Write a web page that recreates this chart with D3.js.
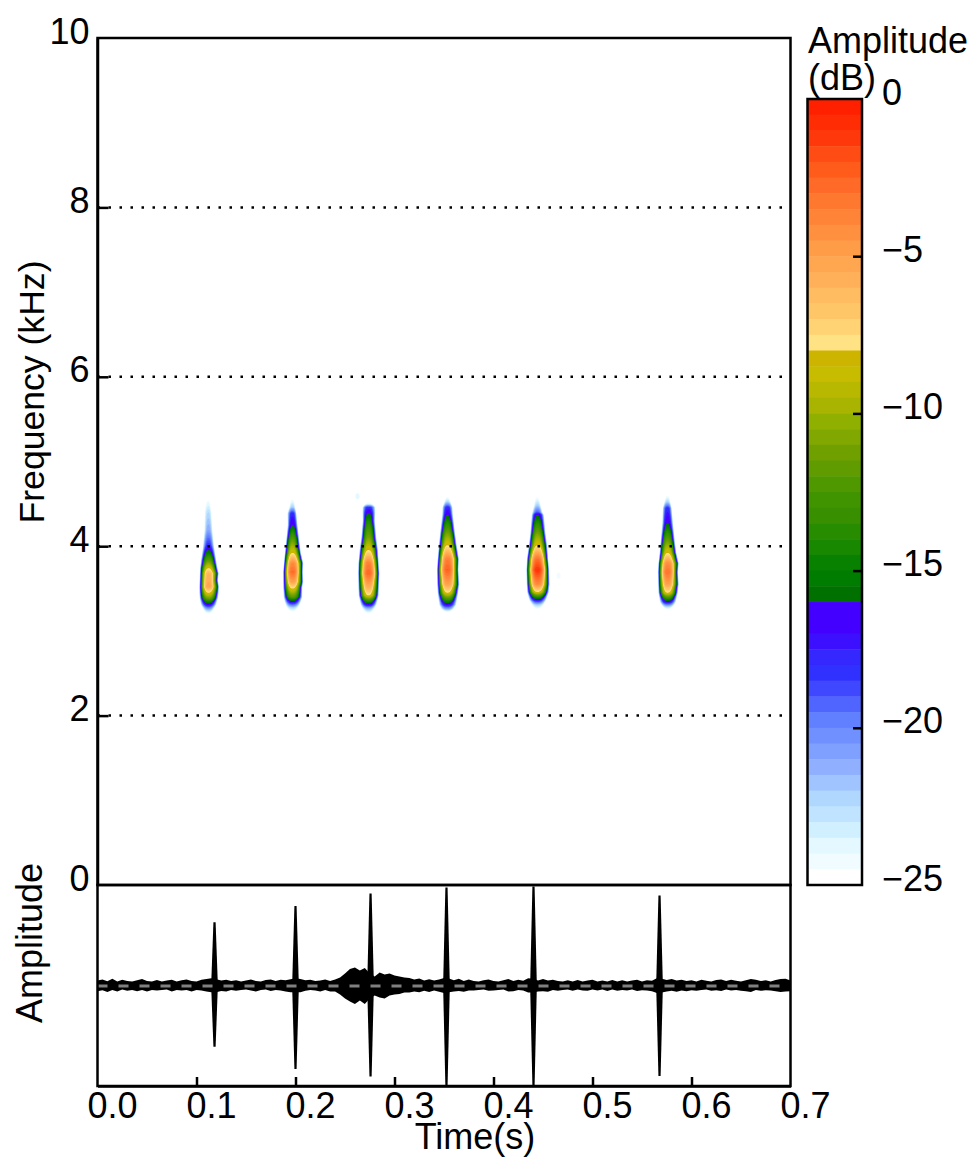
<!DOCTYPE html>
<html><head><meta charset="utf-8">
<script src="https://cdn.jsdelivr.net/npm/d3@7"></script>
<style>
html,body{margin:0;padding:0;background:#fff}
svg{display:block;font-family:"Liberation Sans",Arial,sans-serif}
.axis text{font-size:36px;fill:#000;font-family:"Liberation Sans",Arial,sans-serif}
.axis line,.axis path{stroke:#000;stroke-width:2.5px}
</style></head><body>
<svg id="c" width="971" height="1157"></svg>
<script>
// ---- data ----
const freqTicks=[0,2,4,6,8,10];
const timeTicks=[0,0.1,0.2,0.3,0.4,0.5,0.6,0.7];
const dbTicks=[0,-5,-10,-15,-20,-25];
const gridFreqs=[2,4,6,8];
// 50 colour levels of the colour bar, top (0 dB) to bottom (-25 dB)
const levelColors=["#ff2000","#ff2c04","#ff380c","#ff4c14","#ff5c1c","#ff6a28","#ff7830","#ff8438","#ff9040","#ff9c48","#ffa650","#ffb058","#ffbc60","#ffc668","#ffd274","#ffe284",
"#ccb400","#c8bc00","#b8b800","#a8b400","#90b000","#80a800","#70a000","#609c00","#509800","#409400","#389000","#288c00","#188800","#088000","#007c00","#007000",
"#4400ff","#4400ff","#3c10ff","#3428ff","#3030ff","#4048ff","#5064ff","#6080ff","#7090ff","#80a0ff","#90b0ff","#a0c4ff","#b0d8ff","#c0e4ff","#d0f0ff","#e4f8ff","#f0fcff","#ffffff"];
// call centre times (s)
const callTimes=[0.1121,0.197,0.2737,0.3535,0.4444,0.5758];
// per call rows: [kHz, centre dB, left half width (s), right half width (s)]
const call1=[[3.20,-25,.002,.002],[3.26,-21,.0048,.0048],[3.31,-17,.0066,.0068],[3.39,-11,.0076,.0082],[3.45,-8,.0078,.0088],[3.52,-5.2,.0078,.0090],[3.60,-5.6,.0076,.0082],[3.68,-6,.0074,.0088],[3.74,-8,.0072,.0078],[3.84,-12,.0064,.0066],[3.955,-16,.0052,.0054],[4.01,-18,.0048,.0048],[4.19,-21,.0036,.0036],[4.40,-22.5,.0034,.0026],[4.51,-24,.0026,.0016],[4.57,-25,.001,.001]];
const call2=[[3.22,-25,.002,.002],[3.28,-22,.0052,.0052],[3.34,-17,.0068,.0072],[3.40,-12,.0076,.0084],[3.51,-7.6,.0080,.0084],[3.58,-5,.0080,.0092],[3.695,-2.8,.0080,.0088],[3.80,-4,.0074,.0092],[3.92,-8,.0066,.0072],[4.05,-11,.0056,.0060],[4.25,-16,.0042,.0044],[4.39,-18,.0044,.0034],[4.46,-22,.0030,.0024],[4.55,-24.5,.0018,.0014],[4.60,-25,.001,.001]];
const call3=[[3.20,-25,.002,.002],[3.27,-21,.0056,.0056],[3.31,-17,.0068,.0070],[3.42,-8,.0084,.0088],[3.50,-6,.0086,.0090],[3.68,-2.6,.0088,.0094],[3.80,-3.6,.0086,.0088],[3.955,-8,.0076,.0082],[4.10,-11,.0062,.0068],[4.30,-14,.0050,.0056],[4.39,-16,.0052,.0060],[4.46,-18,.0052,.0060],[4.50,-24,.0030,.0040],[4.54,-25,.001,.001]];
const call4=[[3.22,-25,.002,.002],[3.26,-21,.0056,.0056],[3.31,-17,.0072,.0076],[3.45,-8,.0084,.0092],[3.55,-5,.0088,.0102],[3.72,-2.4,.0090,.0094],[3.85,-3.6,.0084,.0098],[4.01,-8,.0074,.0080],[4.15,-11,.0064,.0066],[4.37,-16,.0046,.0048],[4.46,-18,.0044,.0044],[4.52,-22,.0030,.0030],[4.58,-24.6,.0016,.0016],[4.61,-25,.001,.001]];
const call5=[[3.25,-25,.002,.002],[3.31,-22,.0050,.0056],[3.365,-17,.0072,.0076],[3.46,-8,.0088,.0098],[3.55,-4,.0092,.0104],[3.72,-0.9,.0094,.0100],[3.85,-3,.0090,.0092],[4.01,-8,.0074,.0084],[4.15,-11,.0062,.0070],[4.37,-16,.0050,.0056],[4.40,-19,.0046,.0044],[4.48,-22,.0032,.0030],[4.58,-24.6,.0018,.0014],[4.62,-25,.001,.001]];
const call6=[[3.25,-25,.002,.002],[3.30,-21,.0050,.0056],[3.34,-17,.0066,.0072],[3.45,-8,.0078,.0088],[3.55,-5,.0080,.0096],[3.695,-3,.0082,.0090],[3.80,-4.2,.0078,.0096],[3.92,-8,.0068,.0076],[4.05,-11,.0060,.0064],[4.27,-16,.0046,.0048],[4.45,-18,.0042,.0036],[4.52,-22,.0030,.0026],[4.60,-24.7,.0016,.0014],[4.64,-25,.001,.001]];
const calls=[call1,call2,call3,call4,call5,call6];
// isolated faint specks: [s, kHz, dB]
const specks=[[0.2626,4.59,-23.5],[0.4657,3.65,-24]];
// waveform spikes: [s, peak up, peak down]
const spikes=[[0.1182,0.63,-0.61],[0.2,0.79,-0.83],[0.2758,0.915,-0.905],[0.3525,0.975,-1],[0.4404,0.985,-1],[0.5677,0.895,-0.9]];
const spikeBaseHalf=0.0034, spikeTipHalf=0.0011;
// noise envelope, one value every 5 ms from 0 to 0.7 s
const envStep=0.005;
const envUp=[
.05,.06,.042,.066,.04,.058,.046,.04,.052,.064,.044,.04,.054,.04,.05,.056,.04,.052,.06,.044,
.04,.058,.064,.072,.062,.05,.058,.044,.052,.04,.05,.06,.044,.04,.054,.06,.044,.058,.052,.062,
.072,.064,.052,.058,.046,.05,.06,.046,.06,.08,.12,.165,.18,.15,.175,.12,.09,.13,.11,.12,
.10,.09,.08,.075,.06,.07,.05,.062,.05,.06,.075,.07,.052,.066,.046,.06,.044,.04,.052,.06,
.044,.04,.052,.064,.044,.058,.048,.072,.066,.05,.064,.05,.058,.044,.04,.052,.04,.054,.04,.05,
.056,.04,.05,.04,.054,.04,.052,.04,.05,.056,.04,.052,.048,.072,.068,.054,.064,.05,.056,.046,
.052,.04,.058,.048,.04,.054,.06,.044,.058,.048,.04,.052,.064,.056,.044,.052,.04,.054,.064,.068,.05];
const envDown=[
.056,.048,.064,.044,.06,.04,.052,.046,.058,.044,.06,.046,.05,.044,.04,.06,.046,.05,.044,.06,
.046,.05,.06,.068,.066,.054,.06,.044,.052,.046,.04,.05,.06,.044,.04,.054,.046,.05,.06,.066,
.068,.066,.052,.046,.05,.06,.044,.06,.06,.09,.13,.16,.185,.15,.185,.13,.10,.12,.13,.10,
.09,.085,.07,.07,.06,.066,.052,.064,.05,.062,.075,.066,.06,.054,.062,.05,.05,.044,.04,.052,
.05,.046,.04,.06,.056,.046,.05,.07,.07,.06,.056,.062,.044,.052,.046,.04,.052,.04,.05,.052,
.04,.05,.04,.054,.04,.052,.046,.05,.04,.054,.048,.05,.056,.074,.07,.06,.052,.062,.05,.058,
.048,.052,.046,.04,.052,.048,.054,.04,.05,.046,.052,.058,.064,.046,.052,.048,.05,.058,.064,.06,.056];
const zeroLine=[0,0.7];

// ---- scales ----
const svg=d3.select("#c");
const L=97.5,R=790.5,T=38,M=885,B=1086,CL=807.5,CR=862,CT=99;
const x=d3.scaleLinear().domain([0,0.7]).range([L,R]);
const y=d3.scaleLinear().domain([0,10]).range([M,T]);
const a=d3.scaleLinear().domain([-1,1]).range([B,M]);
const c=d3.scaleLinear().domain([-25,0]).range([M,CT]);
const bandIdx=d3.range(50);
const band=d3.scaleBand().domain(bandIdx).range([CT,M]);
const colorOf=d=>levelColors[Math.max(0,Math.min(49,Math.ceil(-d/0.5)))];

const defs=svg.append("defs");
defs.append("filter").attr("id","soft").attr("x","-20%").attr("y","-20%").attr("width","140%").attr("height","140%")
 .append("feGaussianBlur").attr("stdDeviation",0.7);
defs.append("filter").attr("id","soft2").attr("x","-2%").attr("y","-2%").attr("width","104%").attr("height","104%")
 .append("feGaussianBlur").attr("stdDeviation",0.3);
defs.append("clipPath").attr("id","wclip").append("rect").attr("x",L).attr("y",M).attr("width",R-L).attr("height",B-M);

// ---- spectrogram: filled contours of each call ----
const gS=svg.append("g").attr("filter","url(#soft)");
const thresholds=d3.range(-25,-0.25,0.5).filter(t=>t>-25);
const dT=0.0005,dF=0.006,spanT=0.018,widen=1.2,edgePower=2.6;
calls.forEach((rows,i)=>{
  const fs=rows.map(r=>r[0]);
  const dB=d3.scaleLinear().domain(fs).range(rows.map(r=>r[1])).clamp(true);
  const wL=d3.scaleLinear().domain(fs).range(rows.map(r=>r[2])).clamp(true);
  const wR=d3.scaleLinear().domain(fs).range(rows.map(r=>r[3])).clamp(true);
  const t0=callTimes[i]-spanT,f0=fs[0]-0.06,f1=fs[fs.length-1]+0.06;
  const nx=Math.round(2*spanT/dT)+1,ny=Math.round((f1-f0)/dF)+1;
  const vals=new Float64Array(nx*ny);
  for(let r=0;r<ny;r++){
    const f=f0+r*dF,C=dB(f);
    for(let k=0;k<nx;k++){
      const dt=t0+k*dT-callTimes[i];
      const w=(dt<0?wL(f):wR(f))*widen;
      vals[r*nx+k]=(f<fs[0]||f>fs[fs.length-1])?-40:C-(C+25)*Math.pow(Math.abs(dt)/w,edgePower);
    }
  }
  const cont=d3.contours().size([nx,ny]).smooth(true).thresholds(thresholds)(vals);
  const path=d3.geoPath(d3.geoTransform({point(px,py){
    this.stream.point(x(t0+(px-0.5)*dT),y(f0+(py-0.5)*dF));
  }}));
  gS.append("g").selectAll("path").data(cont).join("path")
    .attr("d",path).attr("fill",d=>colorOf(d.value+0.5));
});
gS.selectAll("ellipse").data(specks).join("ellipse")
  .attr("cx",d=>x(d[0])).attr("cy",d=>y(d[1])).attr("rx",2).attr("ry",3).attr("fill",d=>colorOf(d[2]));

// ---- main frame + grid ----
svg.append("g").selectAll("line").data(gridFreqs).join("line")
  .attr("x1",L).attr("x2",R).attr("y1",d=>y(d)).attr("y2",d=>y(d))
  .attr("stroke","#000").attr("stroke-width",2.5).attr("stroke-dasharray","2.5 8.5");
svg.append("rect").attr("x",L).attr("y",T).attr("width",R-L).attr("height",M-T).attr("fill","none").attr("stroke","#000").attr("stroke-width",2.5);

const gf=svg.append("g").attr("class","axis").attr("transform",`translate(${L},0)`)
  .call(d3.axisLeft(y).tickValues(freqTicks).tickFormat(d3.format("d")).tickSizeInner(-11).tickSizeOuter(0).tickPadding(8));
gf.selectAll("text").attr("dy",5).attr("dominant-baseline","auto");
gf.selectAll(".tick").filter(d=>d===0||d===10).select("line").remove();

// ---- waveform ----
const gW=svg.append("g").attr("clip-path","url(#wclip)").append("g").attr("filter","url(#soft2)");
const tAt=(d,i)=>x(i*envStep);
gW.append("path").attr("fill","#000")
  .attr("d",d3.area().x(tAt).y0((d,i)=>a(-envDown[i])).y1(d=>a(d)).curve(d3.curveLinear)(envUp));
gW.selectAll("path.spike").data(spikes).join("path").attr("class","spike").attr("fill","#000")
  .attr("d",d=>"M"+[[d[0]-spikeBaseHalf,0],[d[0]-spikeTipHalf,d[1]],[d[0]+spikeTipHalf,d[1]],[d[0]+spikeBaseHalf,0],[d[0]+spikeTipHalf,d[2]],[d[0]-spikeTipHalf,d[2]]].map(p=>[x(p[0]),a(p[1])].join(",")).join("L")+"Z");
gW.append("line").attr("x1",x(zeroLine[0])).attr("x2",x(zeroLine[1])).attr("y1",a(0)+0.5).attr("y2",a(0)+0.5)
  .attr("stroke","#808080").attr("stroke-width",3).attr("stroke-dasharray","10 11");
svg.append("rect").attr("x",L).attr("y",M).attr("width",R-L).attr("height",B-M).attr("fill","none").attr("stroke","#000").attr("stroke-width",2.5);
const gt=svg.append("g").attr("class","axis").attr("transform",`translate(0,${B})`)
  .call(d3.axisBottom(x).tickValues(timeTicks).tickFormat(d3.format(".1f")).tickSizeInner(-9).tickSizeOuter(0));
gt.selectAll("text").attr("dy",0).attr("x",14.5).attr("y",32).attr("dominant-baseline","auto");
gt.selectAll(".tick").filter(d=>d===0||d===0.7).select("line").remove();

// ---- colour bar ----
svg.append("g").selectAll("rect").data(bandIdx).join("rect")
  .attr("x",CL).attr("width",CR-CL).attr("y",d=>band(d)).attr("height",band.bandwidth()+0.5)
  .attr("fill",d=>levelColors[d]);
svg.append("rect").attr("x",CL).attr("y",CT).attr("width",CR-CL).attr("height",M-CT).attr("fill","none").attr("stroke","#000").attr("stroke-width",2.5);
const gc=svg.append("g").attr("class","axis").attr("transform",`translate(${CR},0)`)
  .call(d3.axisRight(c).tickValues(dbTicks).tickFormat(d=>d===0?"0":"\u2212"+Math.abs(d)).tickSizeInner(-9).tickSizeOuter(0).tickPadding(20));
gc.selectAll("text").attr("dy",5).attr("dominant-baseline","auto");
gc.selectAll(".tick").filter(d=>d===0||d===-25).select("line").remove();
gc.select(".domain").remove();

// ---- titles ----
const txt=(s,X,Y,o={})=>svg.append("text").text(s).attr("x",X).attr("y",Y).attr("font-size",o.size||36)
  .attr("text-anchor",o.anchor||"start").attr("fill","#000").attr("transform",o.rot?`rotate(-90 ${X} ${Y})`:null);
txt("Amplitude",808,53);
txt("(dB)",808,90);
txt("Time(s)",475,1149,{anchor:"middle"});
txt("Frequency (kHz)",44,392,{anchor:"middle",rot:true,size:35.6});
txt("Amplitude",42,943,{anchor:"middle",rot:true});
</script>
</body></html>
